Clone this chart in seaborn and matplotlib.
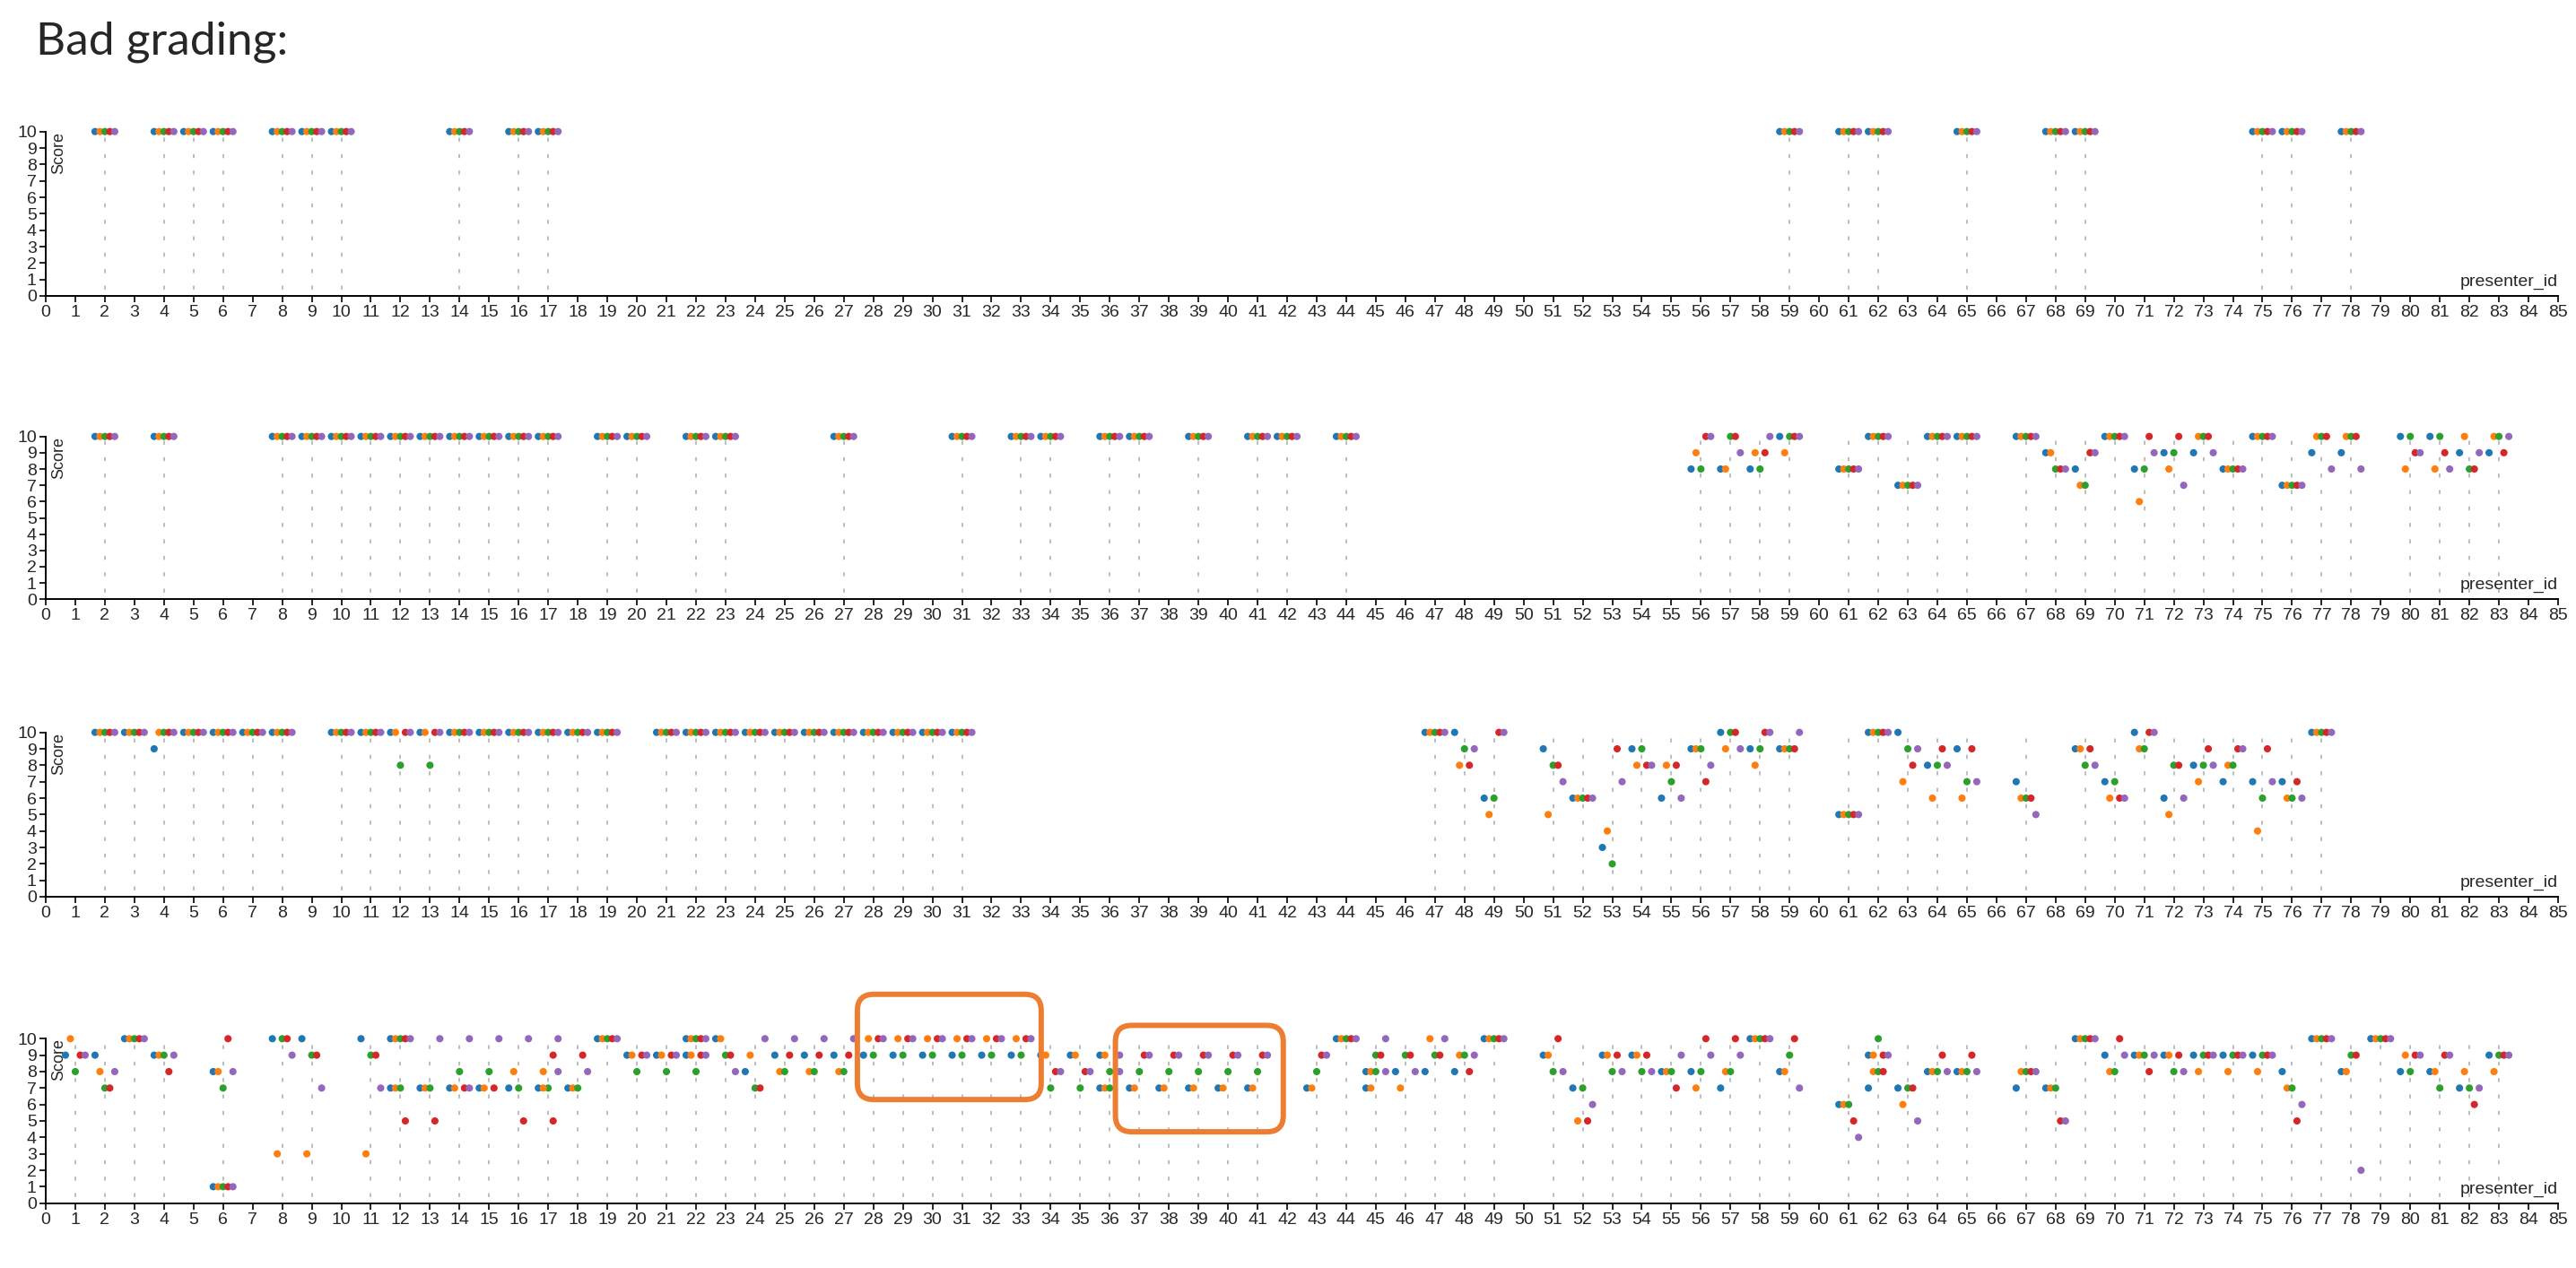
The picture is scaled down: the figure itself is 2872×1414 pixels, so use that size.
import pandas as pd
import seaborn as sns
import matplotlib.pyplot as plt
from matplotlib.patches import FancyBboxPatch

# five graders, d3 category10 colours
graders = ["g1", "g2", "g3", "g4", "g5"]
grader_colors = ["#1f77b4", "#ff7f0e", "#2ca02c", "#d62728", "#9467bd"]

# rows: (presenter_id, g1, g2, g3, g4, g5) ; None = no score
p1_all10 = [2, 4, 5, 6, 8, 9, 10, 14, 16, 17, 59, 61, 62, 65, 68, 69, 75, 76, 78]
p1_rows = []

p2_all10 = [2, 4, 8, 9, 10, 11, 12, 13, 14, 15, 16, 17, 19, 20, 22, 23, 27, 31, 33, 34,
            36, 37, 39, 41, 42, 44, 62, 64, 65, 67, 70, 75]
p2_rows = [
    (56, 8, 9, 8, 10, 10), (57, 8, 8, 10, 10, 9), (58, 8, 9, 8, 9, 10), (59, 10, 9, 10, 10, 10),
    (61, 8, 8, 8, 8, 8), (63, 7, 7, 7, 7, 7), (68, 9, 9, 8, 8, 8), (69, 8, 7, 7, 9, 9),
    (71, 8, 6, 8, 10, 9), (72, 9, 8, 9, 10, 7), (73, 9, 10, 10, 10, 9), (74, 8, 8, 8, 8, 8),
    (76, 7, 7, 7, 7, 7), (77, 9, 10, 10, 10, 8), (78, 9, 10, 10, 10, 8), (80, 10, 8, 10, 9, 9),
    (81, 10, 8, 10, 9, 8), (82, 9, 10, 8, 8, 9), (83, 9, 10, 10, 9, 10),
]

p3_all10 = [2, 3, 5, 6, 7, 8, 10, 11, 14, 15, 16, 17, 18, 19, 21, 22, 23, 24, 25, 26, 27,
            28, 29, 30, 31, 47, 62, 77]
p3_rows = [
    (4, 9, 10, 10, 10, 10), (12, 10, 10, 8, 10, 10), (13, 10, 10, 8, 10, 10),
    (48, 10, 8, 9, 8, 9), (49, 6, 5, 6, 10, 10), (51, 9, 5, 8, 8, 7), (52, 6, 6, 6, 6, 6),
    (53, 3, 4, 2, 9, 7), (54, 9, 8, 9, 8, 8), (55, 6, 8, 7, 8, 6), (56, 9, 9, 9, 7, 8),
    (57, 10, 9, 10, 10, 9), (58, 9, 8, 9, 10, 10), (59, 9, 9, 9, 9, 10), (61, 5, 5, 5, 5, 5),
    (63, 10, 7, 9, 8, 9), (64, 8, 6, 8, 9, 8), (65, 9, 6, 7, 9, 7), (67, 7, 6, 6, 6, 5),
    (69, 9, 9, 8, 9, 8), (70, 7, 6, 7, 6, 6), (71, 10, 9, 9, 10, 10), (72, 6, 5, 8, 8, 6),
    (73, 8, 7, 8, 9, 8), (74, 7, 8, 8, 9, 9), (75, 7, 4, 6, 9, 7), (76, 7, 6, 6, 7, 6),
]

p4_all10 = [3, 12, 19, 22, 44, 49, 58, 69, 77, 79]
p4_rows = [
    (1, 9, 10, 8, 9, 9), (2, 9, 8, 7, 7, 8), (4, 9, 9, 9, 8, 9),
    (6, 8, 8, 7, 10, 8), (6, 1, 1, 1, 1, 1),
    (8, 10, 3, 10, 10, 9), (9, 10, 3, 9, 9, 7), (11, 10, 3, 9, 9, 7),
    (12, 7, 7, 7, 5, None), (13, 7, 7, 7, 5, 10),
    (14, 7, 7, 8, 7, 10), (14, None, None, None, None, 7),
    (15, 7, 7, 8, 7, 10), (16, 7, 8, 7, 5, 10),
    (17, 7, 8, 7, 9, 10), (17, None, 7, None, 5, 8),
    (18, 7, 7, 7, 9, 8), (20, 9, 9, 8, 9, 9), (21, 9, 9, 8, 9, 9), (22, 9, 9, 8, 9, 9),
    (23, 10, 10, 9, 9, 8), (24, 8, 9, 7, 7, 10), (25, 9, 8, 8, 9, 10), (26, 9, 8, 8, 9, 10),
    (27, 9, 8, 8, 9, 10),
    (28, 9, 10, 9, 10, 10), (29, 9, 10, 9, 10, 10), (30, 9, 10, 9, 10, 10),
    (31, 9, 10, 9, 10, 10), (32, 9, 10, 9, 10, 10), (33, 9, 10, 9, 10, 10),
    (34, 9, 9, 7, 8, 8), (35, 9, 9, 7, 8, 8),
    (36, 9, 9, 8, None, 9), (36, 7, 7, 7, None, 8),
    (37, 7, 7, 8, 9, 9), (38, 7, 7, 8, 9, 9), (39, 7, 7, 8, 9, 9), (40, 7, 7, 8, 9, 9),
    (41, 7, 7, 8, 9, 9),
    (43, 7, 7, 8, 9, 9), (45, 8, 8, 9, 9, 10), (45, 7, 7, 8, None, 8), (46, 8, 7, 9, 9, 8),
    (47, 8, 10, 9, 9, 10), (48, 8, 9, 9, 8, 9), (51, 9, 9, 8, 10, 8), (52, 7, 5, 7, 5, 6),
    (53, 9, 9, 8, 9, 8), (54, 9, 9, 8, 9, 8), (55, 8, 8, 8, 7, 9), (56, 8, 7, 8, 10, 9),
    (57, 7, 8, 8, 10, 9), (59, 8, 8, 9, 10, 7), (61, 6, 6, 6, 5, 4),
    (62, 9, 9, 10, 9, 9), (62, 7, 8, 8, 8, None),
    (63, 7, 6, 7, 7, 5), (64, 8, 8, 8, 9, 8), (65, 8, 8, 8, 9, 8), (67, 7, 8, 8, 8, 8),
    (68, 7, 7, 7, 5, 5), (70, 9, 8, 8, 10, 9), (71, 9, 9, 9, 8, 9), (72, 9, 9, 8, 9, 8),
    (73, 9, 8, 9, 9, 9), (74, 9, 8, 9, 9, 9), (75, 9, 8, 9, 9, 9), (76, 8, 7, 7, 5, 6),
    (78, 8, 8, 9, 9, 2), (80, 8, 9, 8, 9, 9), (81, 8, 8, 7, 9, 9), (82, 7, 8, 7, 6, 7),
    (83, 9, 8, 9, 9, 9),
]

# highlighted blocks in the last panel: (id from, id to, score from, score to)
highlight_boxes = [(27.46, 33.68, 6.3, 12.7), (36.19, 41.87, 4.34, 10.81)]

panels = [(p1_all10, p1_rows), (p2_all10, p2_rows), (p3_all10, p3_rows), (p4_all10, p4_rows)]
# axis top (score 10) and bottom (score 0) of each panel, in pixels from the top
panel_px = [(146.7, 330.0), (486.7, 668.3), (816.7, 1000.0), (1158.3, 1341.7)]

W, H = 2872, 1414
dodge = [-1 / 3, -1 / 6, 0, 1 / 6, 1 / 3]


def long_table(all10, rows):
    full = [(i, 10, 10, 10, 10, 10) for i in all10] + list(rows)
    full.sort(key=lambda r: r[0])
    recs = []
    for row in full:
        for k, s in enumerate(row[1:]):
            if s is not None:
                recs.append({"presenter_id": row[0], "grader": graders[k],
                             "score": s, "x": row[0] + dodge[k]})
    return pd.DataFrame(recs)


sns.set_style("ticks")
plt.rcParams["font.family"] = ["Liberation Sans", "DejaVu Sans"]
plt.rcParams["lines.scale_dashes"] = False

fig = plt.figure(figsize=(W / 100, H / 100), dpi=100)
fig.text(40 / W, 1 - 60 / H, "Bad grading:", fontsize=37, family=["Lato", "DejaVu Sans"],
         va="baseline", ha="left")

left, right = 51, 2852
for (all10, rows), (top, bottom) in zip(panels, panel_px):
    ax = fig.add_axes([left / W, 1 - bottom / H, (right - left) / W, (bottom - top) / H])
    df = long_table(all10, rows)

    # one dashed guide per presenter, dashes between score rows
    ax.vlines(sorted(df["presenter_id"].unique()), 0, 10, colors="#b8b8b8", linewidth=1.3,
              linestyles=[(8.1, (3.2, 10.0))], zorder=1)

    sns.scatterplot(data=df, x="x", y="score", hue="grader", hue_order=graders,
                    palette=grader_colors, s=34, linewidth=0, legend=False, ax=ax,
                    clip_on=False, zorder=3)

    ax.set_xlim(0, 85)
    ax.set_ylim(0, 10)
    ax.set_xticks(range(0, 86))
    ax.set_yticks(range(0, 11))
    ax.set_xlabel("")
    ax.set_ylabel("")
    sns.despine(ax=ax)
    for sp in ["left", "bottom"]:
        ax.spines[sp].set_linewidth(1.4)
        ax.spines[sp].set_color("black")
    ax.tick_params(axis="both", length=4.8, width=1.2, labelsize=14, pad=2.5, color="black")
    ax.patch.set_alpha(0)

    ax.annotate("Score", xy=(0, 1), xycoords="axes fraction", xytext=(4.5, 0),
                textcoords="offset points", rotation=90, ha="left", va="top", fontsize=13)
    ax.annotate("presenter_id", xy=(1, 0), xycoords="axes fraction", xytext=(0, 8),
                textcoords="offset points", ha="right", va="baseline", fontsize=14)

# orange call-out boxes on the last panel
for x0, x1, y0, y1 in highlight_boxes:
    box = FancyBboxPatch((x0, y0), x1 - x0, y1 - y0,
                         boxstyle="round,pad=0,rounding_size=0.55", mutation_aspect=1.8,
                         transform=ax.transData, fill=False, edgecolor="#ed7d31",
                         linewidth=4.3, clip_on=False, zorder=5)
    ax.add_patch(box)

fig.savefig("out.png", dpi=100)
